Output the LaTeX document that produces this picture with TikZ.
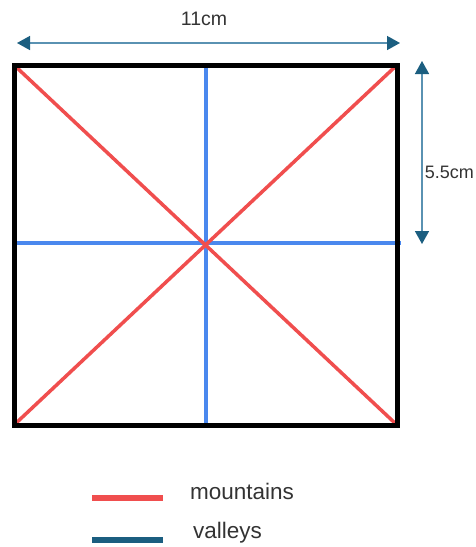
\documentclass[tikz,border=0pt]{standalone}
\usepackage{fontspec}
\setmainfont{Liberation Sans}
\usetikzlibrary{arrows.meta}
\definecolor{mred}{HTML}{F04E4E}
\definecolor{vblue}{HTML}{4A88EE}
\definecolor{darrow}{HTML}{1B5E80}
\definecolor{sarrow}{HTML}{5A92B2}
\definecolor{txt}{HTML}{333333}
\tikzset{
  frame/.style={line width=5pt, black},
  mount/.style={line width=3.5pt, mred},
  valley/.style={line width=3.5pt, vblue},
  dimarrow/.style={line width=1.5pt, sarrow,
    {Triangle[length=13pt,width=14pt,color=darrow]}-{Triangle[length=13pt,width=14pt,color=darrow]}},
  lab/.style={text=txt, font=\fontsize{19.5}{22}\selectfont, inner sep=0pt},
  leglab/.style={text=txt, font=\fontsize{22.5}{26}\selectfont, inner sep=0pt, anchor=base west},
  legline/.style={line width=6pt}
}
\begin{document}
\begin{tikzpicture}[x=1pt,y=-1pt]
\useasboundingbox (0,0) rectangle (475,547);
% square corners
\coordinate (tl) at (14,65);
\coordinate (tr) at (397,65);
\coordinate (bl) at (14,425);
\coordinate (br) at (397,425);
\coordinate (tm) at (206,65);
\coordinate (bm) at (206,425);
\coordinate (lm) at (14,243);
\coordinate (rm) at (401,243);
% folds
\draw[valley] (tm) -- (bm);
\draw[valley] (lm) -- (rm);
\draw[mount] (tl) -- (br);
\draw[mount] (tr) -- (bl);
\draw[frame] (tl) rectangle (br);
% dimension arrows
\coordinate (ha) at (17,43);
\coordinate (hb) at (400,43);
\draw[dimarrow] (ha) -- (hb);
\node[lab] (hlab) at (204,19) {11cm};
\coordinate (va) at (422,61);
\coordinate (vb) at (422,244);
\draw[dimarrow] (va) -- (vb);
\node[lab, font=\fontsize{18}{20}\selectfont, anchor=east] (vlab) at (474,172) {5.5cm};
% legend
\coordinate (l1a) at (92,498);
\coordinate (l1b) at (163,498);
\draw[legline, mred] (l1a) -- (l1b);
\node[leglab] (mlab) at (190,499) {mountains};
\coordinate (l2a) at (92,540);
\coordinate (l2b) at (163,540);
\draw[legline, darrow] (l2a) -- (l2b);
\node[leglab] (vlab2) at (193,538) {valleys};
\end{tikzpicture}
\end{document}
